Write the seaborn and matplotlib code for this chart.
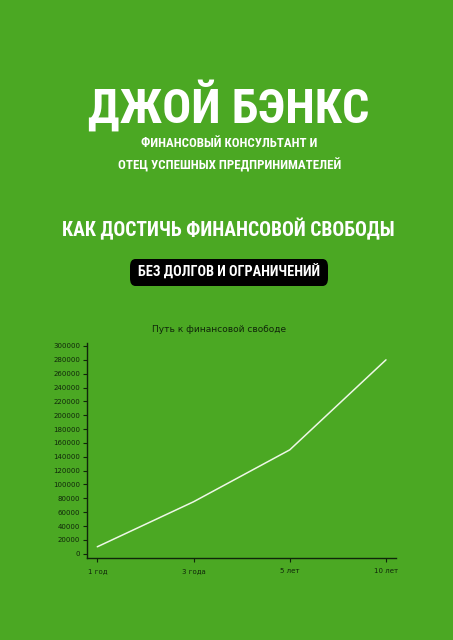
import matplotlib
matplotlib.use("Agg")
import matplotlib.pyplot as plt
import seaborn as sns
import pandas as pd
from matplotlib.patches import FancyBboxPatch

# Chart data
periods = ["1 год", "3 года", "5 лет", "10 лет"]
savings = [10000, 75000, 150000, 280000]
y_ticks = list(range(0, 300001, 20000))

# Cover texts
author = "ДЖОЙ БЭНКС"
subtitle_1 = "ФИНАНСОВЫЙ КОНСУЛЬТАНТ И"
subtitle_2 = "ОТЕЦ УСПЕШНЫХ ПРЕДПРИНИМАТЕЛЕЙ"
book_title = "КАК ДОСТИЧЬ ФИНАНСОВОЙ СВОБОДЫ"
tagline = "БЕЗ ДОЛГОВ И ОГРАНИЧЕНИЙ"
chart_title = "Путь к финансовой свободе"

bg = "#4ba823"
dark = "#10260a"
cover_font = ["Roboto Condensed", "Roboto", "DejaVu Sans"]

sns.set_style("ticks")
plt.rcParams["font.family"] = ["DejaVu Sans"]

fig = plt.figure(figsize=(4.53, 6.40), dpi=100)
fig.patch.set_facecolor(bg)
W, H = 453, 640


def fit_text(x, y, s, width_px, color="white", zorder=3):
    # y is the baseline in pixels; text scaled to a target pixel width
    t = fig.text(x / W, 1 - y / H, s, ha="center", va="baseline", color=color,
                 family=cover_font, fontweight="bold", fontsize=20, zorder=zorder)
    r = fig.canvas.get_renderer()
    w = t.get_window_extent(renderer=r).width
    t.set_fontsize(20 * width_px / w)
    return t


fit_text(229, 123, author, 282)
fit_text(229, 147, subtitle_1, 177)
fit_text(230, 169, subtitle_2, 224)
fit_text(228, 236.5, book_title, 333)

box = FancyBboxPatch((130 / W, 1 - 286 / H), 198 / W, 27 / H,
                     boxstyle="round,pad=0,rounding_size=0.012",
                     transform=fig.transFigure, facecolor="black",
                     edgecolor="none", zorder=2)
fig.patches.append(box)
fit_text(229, 277, tagline, 182)

# Chart
df = pd.DataFrame({"period": periods, "value": savings})
ax = fig.add_axes([87 / W, 1 - 558 / H, (396 - 87) / W, (558 - 343) / H])
ax.set_facecolor(bg)
sns.lineplot(data=df, x="period", y="value", ax=ax, color="#eef7e6",
             linewidth=1.1, sort=False)
ax.set_xlim(-0.107, 3.104)
ax.set_ylim(-6200, 304300)
ax.set_yticks(y_ticks)
ax.set_xlabel("")
ax.set_ylabel("")
sns.despine(ax=ax)
for side in ["left", "bottom"]:
    ax.spines[side].set_color(dark)
    ax.spines[side].set_linewidth(1.0)
ax.tick_params(axis="both", colors=dark, labelsize=5, length=3, width=0.8,
               labelcolor=dark, pad=2)
ax.tick_params(axis="x", pad=4)
fig.text(219 / W, 1 - 330 / H, chart_title, ha="center", va="center",
         fontsize=6.5, color=dark)

fig.savefig("out.png", dpi=100, facecolor=bg)
